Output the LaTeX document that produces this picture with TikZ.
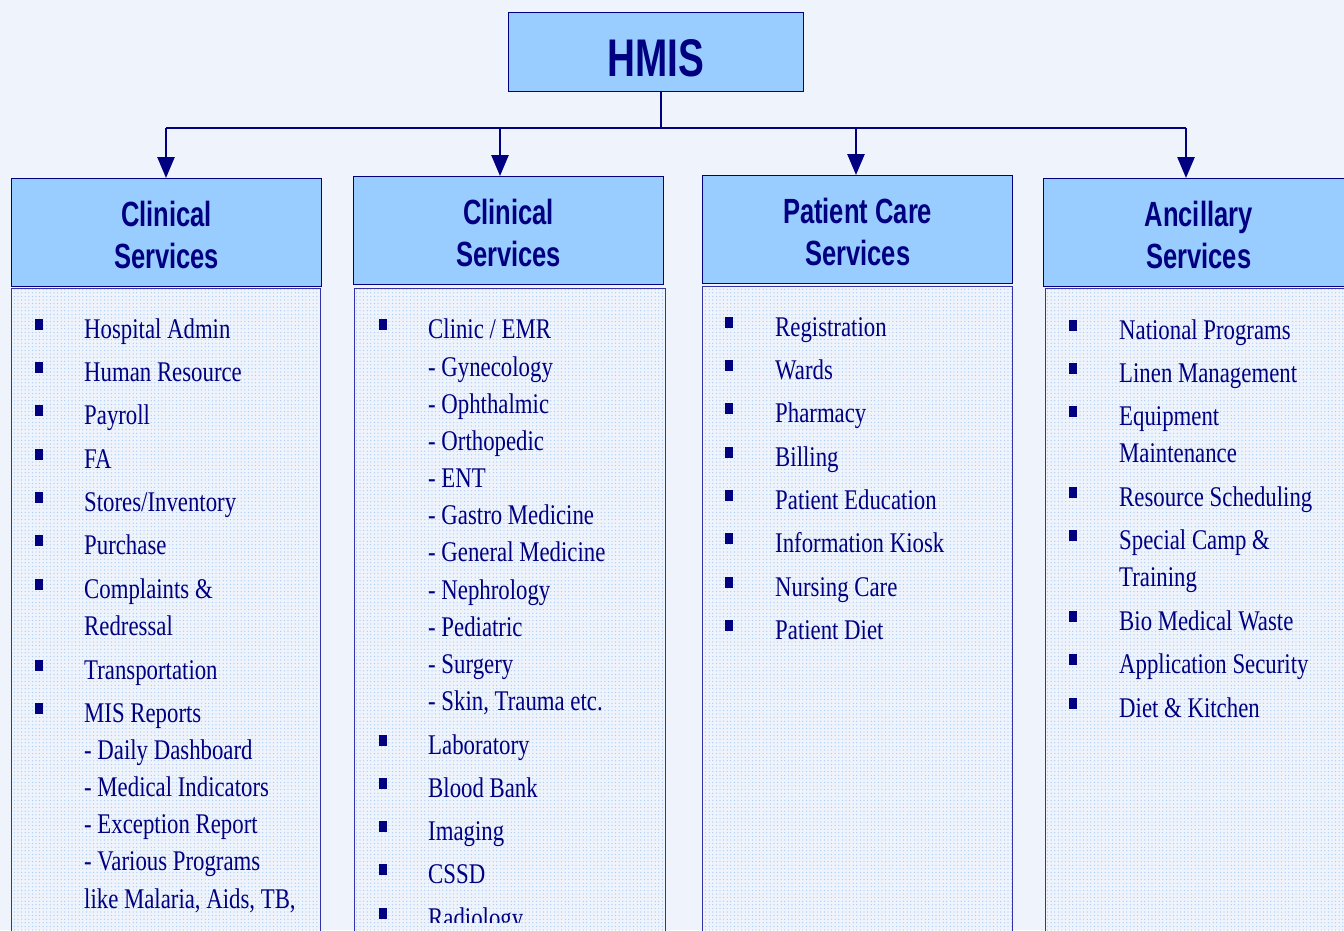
\documentclass[tikz,border=0pt]{standalone}
\usepackage{fontspec}
\usetikzlibrary{arrows.meta,patterns.meta}
\newfontfamily\listfont[FakeStretch=0.8]{Liberation Serif}
\newfontfamily\headfont[FakeStretch=0.73]{Liberation Sans}
\definecolor{bgc}{RGB}{239,243,251}
\definecolor{navy}{RGB}{0,0,128}
\definecolor{hdrfill}{RGB}{153,204,255}
\definecolor{boxline}{RGB}{50,50,170}
\definecolor{dotblue}{RGB}{160,200,245}
\newcommand\hdrstrut{\rule{0pt}{31pt}}
\tikzset{
  hdr/.style={draw=navy, line width=1.3pt, fill=hdrfill, anchor=north west,
    minimum width=310pt, minimum height=108pt, inner sep=0pt, align=center,
    text=navy, font=\headfont\bfseries\fontsize{35}{42}\selectfont},
  listbox/.style={draw=boxline, line width=1.4pt, anchor=north west,
    minimum width=309pt, minimum height=700pt, inner sep=0pt,
    pattern={Dots[distance=3.6pt, radius=0.62pt]}, pattern color=dotblue},
  itemtext/.style={anchor=base west, inner sep=0pt, text=navy,
    font=\listfont\fontsize{28.5}{34}\selectfont},
  bul/.style={fill=navy, minimum width=8pt, minimum height=11pt, inner sep=0pt},
  conn/.style={draw=navy, line width=2.6pt},
  arr/.style={conn, -{Triangle[width=17pt,length=21pt]}}
}
\begin{document}
\begin{tikzpicture}[x=1pt,y=-1pt]
\useasboundingbox (0,0) rectangle (1344,930);
\clip (0,0) rectangle (1344,930);
\fill[bgc] (0,0) rectangle (1344,930);

% top box
\node[draw=navy, line width=1.3pt, fill=hdrfill, anchor=north west,
  minimum width=295pt, minimum height=79pt, inner sep=0pt, text=navy,
  text height=48pt, text depth=0pt,
  font=\headfont\bfseries\fontsize{53}{60}\selectfont] (hmis) at (508,12) {HMIS};

% headers
\node[hdr] (h1) at (11,178) {\hdrstrut Clinical\\Services};
\node[hdr] (h2) at (353,176) {\hdrstrut Clinical\\Services};
\node[hdr] (h3) at (702,175) {\hdrstrut Patient Care\\Services};
\node[hdr] (h4) at (1043,178) {\hdrstrut Ancillary\\Services};

% list boxes
\node[listbox] (l1) at (11,288) {};
\node[listbox, minimum width=311pt] (l2) at (354,288) {};
\node[listbox, minimum width=310pt] (l3) at (702,286) {};
\node[listbox, minimum width=310pt] (l4) at (1045,288) {};

% connectors
\coordinate (j) at (661,128);
\coordinate (a1) at (166,128);
\coordinate (a2) at (500,128);
\coordinate (a3) at (856,128);
\coordinate (a4) at (1186,128);
\draw[conn] (j |- hmis.south) -- (j);
\draw[conn] (a1) -- (a4);
\draw[arr] (a1) -- (a1 |- h1.north);
\draw[arr] (a2) -- (a2 |- h2.north);
\draw[arr] (a3) -- (a3 |- h3.north);
\draw[arr] (a4) -- (a4 |- h4.north);

% column 1
\foreach \y/\t [count=\i] in {338/Hospital Admin, 381/Human Resource, 424/Payroll,
  468/FA, 511/{Stores/Inventory}, 554/Purchase, 598/Complaints \&, 635/Redressal,
  679/Transportation, 722/MIS Reports, 759/- Daily Dashboard,
  796/- Medical Indicators, 833/- Exception Report, 870/- Various Programs,
  908/{like Malaria, Aids, TB,}}
  \node[itemtext] (c1t\i) at (84,\y) {\t};
\foreach \y [count=\i] in {338,381,424,468,511,554,598,679,722}
  \node[bul] (c1b\i) at (39,\y-14) {};

% column 2
\begin{scope}
\clip (354,288) rectangle (665,922);
\foreach \y/\t [count=\i] in {338/{Clinic / EMR}, 376/- Gynecology, 413/- Ophthalmic,
  450/- Orthopedic, 487/- ENT, 524/- Gastro Medicine, 561/- General Medicine,
  599/- Nephrology, 636/- Pediatric, 673/- Surgery, 710/{- Skin, Trauma etc.},
  754/Laboratory, 797/Blood Bank, 840/Imaging, 883/CSSD, 927/Radiology}
  \node[itemtext] (c2t\i) at (428,\y) {\t};
\foreach \y [count=\i] in {338,754,797,840,883,927}
  \node[bul] (c2b\i) at (383,\y-14) {};
\end{scope}

% column 3
\foreach \y/\t [count=\i] in {336/Registration, 379/Wards, 422/Pharmacy, 466/Billing,
  509/Patient Education, 552/Information Kiosk, 596/Nursing Care, 639/Patient Diet}
  {\node[itemtext] (c3t\i) at (775,\y) {\t};
   \node[bul] (c3b\i) at (729,\y-14) {};}

% column 4
\foreach \y/\t [count=\i] in {339/National Programs, 382/Linen Management,
  425/Equipment, 462/Maintenance, 506/Resource Scheduling, 549/Special Camp \&,
  586/Training, 630/Bio Medical Waste, 673/Application Security, 717/Diet \& Kitchen}
  \node[itemtext] (c4t\i) at (1119,\y) {\t};
\foreach \y [count=\i] in {339,382,425,506,549,630,673,717}
  \node[bul] (c4b\i) at (1073,\y-14) {};
\end{tikzpicture}
\end{document}
